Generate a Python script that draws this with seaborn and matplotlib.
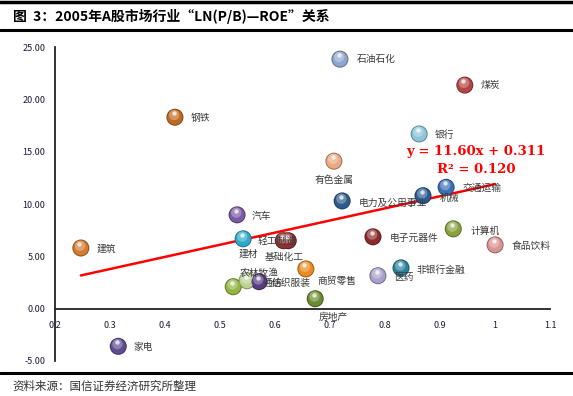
import numpy as np
import pandas as pd
import matplotlib
matplotlib.use("Agg")
import matplotlib.pyplot as plt
import matplotlib.colors as mcolors
from matplotlib.lines import Line2D
from matplotlib.transforms import offset_copy
from matplotlib.ticker import FuncFormatter, MultipleLocator
import seaborn as sns

# --- data ---
industries = [
    "石油石化", "煤炭", "钢铁", "银行", "有色金属", "电力及公用事业",
    "交通运输", "机械", "汽车", "建材", "轻工制造", "基础化工",
    "电子元器件", "计算机", "食品饮料", "非银行金融", "医药", "商贸零售",
    "房地产", "农林牧渔", "纺织服装", "通信", "建筑", "家电",
]
ln_pb = [
    0.718, 0.945, 0.418, 0.862, 0.707, 0.722,
    0.911, 0.869, 0.531, 0.542, 0.615, 0.624,
    0.778, 0.924, 1.000, 0.829, 0.787, 0.656,
    0.673, 0.549, 0.571, 0.524, 0.247, 0.315,
]
roe = [
    23.85, 21.37, 18.30, 16.70, 14.10, 10.30,
    11.60, 10.80, 8.97, 6.68, 6.50, 6.50,
    6.87, 7.63, 6.10, 3.90, 3.15, 3.80,
    0.95, 2.67, 2.58, 2.10, 5.80, -3.60,
]
ball_colors = [
    "#8fa6cf", "#b24545", "#bf6a22", "#8cc6d8", "#eaa982", "#2f5b8c",
    "#3b6fb2", "#2c5a92", "#7a5aa2", "#2fa9c9", "#8a3232", "#8e3030",
    "#8c2c2c", "#8aa23e", "#d99494", "#2a8199", "#a9a1c9", "#e98b22",
    "#6b8b30", "#bcd396", "#5a3c82", "#94b444", "#d27b31", "#614b92",
]

# trend line as printed on the chart
slope = 11.60
intercept = 0.311
r_squared = 0.120
trend_x_end = 1.0

# label placement: (dx px, dy px, ha)
label_pos = {
    "石油石化": (17, 0, "left"), "煤炭": (16, 0, "left"), "钢铁": (16, -1, "left"),
    "银行": (16, -1, "left"), "有色金属": (0, -19, "center"),
    "电力及公用事业": (17, -2, "left"), "交通运输": (16, -1, "left"),
    "机械": (17, -2, "left"), "汽车": (15, -1, "left"), "建材": (5, -15, "center"),
    "轻工制造": (-6, 0, "center"), "基础化工": (-4, -16, "center"),
    "电子元器件": (17, -1, "left"), "计算机": (17, -2, "left"),
    "食品饮料": (17, -1, "left"), "非银行金融": (16, -2, "left"),
    "医药": (16, -1, "left"), "商贸零售": (12, -12, "left"),
    "房地产": (18, -18, "center"), "农林牧渔": (12, 8, "center"),
    "纺织服装": (13, -1, "left"), "通信": (29, 4, "left"),
    "建筑": (16, -1, "left"), "家电": (15, -1, "left"),
}

df = pd.DataFrame({"industry": industries, "ln_pb": ln_pb, "roe": roe})

sns.set_style("white")
plt.rcParams["font.family"] = ["Noto Sans CJK SC", "DejaVu Sans"]

fig = plt.figure(figsize=(5.73, 3.96), dpi=100)
ax = fig.add_axes([0.096, 0.0884, 0.864, 0.7926])


def lighten(c, f):
    rgb = np.array(mcolors.to_rgb(c))
    return tuple(rgb + (1 - rgb) * f)


def darken(c, f):
    rgb = np.array(mcolors.to_rgb(c))
    return tuple(rgb * (1 - f))


# trend line
trend = pd.DataFrame({"x": [min(ln_pb), trend_x_end]})
trend["y"] = slope * trend["x"] + intercept
sns.lineplot(data=trend, x="x", y="y", color="#ff0000", linewidth=1.8, ax=ax, zorder=2)

# glossy balls: dark rim, body, highlight, specular spot
palette = dict(zip(industries, ball_colors))
sns.scatterplot(data=df, x="ln_pb", y="roe", hue="industry",
                palette={k: darken(v, 0.35) for k, v in palette.items()},
                s=150, linewidth=0, legend=False, ax=ax, zorder=3)
sns.scatterplot(data=df, x="ln_pb", y="roe", hue="industry", palette=palette,
                s=118, linewidth=0, legend=False, ax=ax, zorder=4)
hl = offset_copy(ax.transData, fig=fig, x=-0.6, y=1.6, units="points")
ax.scatter(df["ln_pb"], df["roe"], s=55, c=[lighten(c, 0.35) for c in ball_colors],
           linewidths=0, alpha=0.85, transform=hl, zorder=5)
sp = offset_copy(ax.transData, fig=fig, x=-1.0, y=3.0, units="points")
ax.scatter(df["ln_pb"], df["roe"], s=10, c="white", linewidths=0,
           alpha=0.75, transform=sp, zorder=6)

for name, x, y in zip(industries, ln_pb, roe):
    dx, dy, ha = label_pos[name]
    ax.annotate(name, (x, y), xytext=(dx, dy), textcoords="offset pixels",
                ha=ha, va="center", fontsize=7, color="#3a3a3a", zorder=7)

# regression text
ax.text(0.965, 15.0, f"y = {slope:.2f}x + {intercept:.3f}", ha="center", va="center",
        fontsize=9.5, color="#ff0000", fontweight="bold", family="DejaVu Serif")
ax.text(0.965, 13.3, f"R² = {r_squared:.3f}", ha="center", va="center",
        fontsize=9.5, color="#ff0000", fontweight="bold", family="DejaVu Serif")

# axes styling
ax.set_xlim(0.2, 1.1)
ax.set_ylim(-5, 25)
ax.xaxis.set_major_locator(MultipleLocator(0.1))
ax.yaxis.set_major_locator(MultipleLocator(5))
ax.xaxis.set_major_formatter(FuncFormatter(lambda v, p: f"{v:g}"))
ax.yaxis.set_major_formatter(FuncFormatter(lambda v, p: f"{v:.2f}"))
ax.spines["top"].set_visible(False)
ax.spines["right"].set_visible(False)
ax.spines["bottom"].set_position(("data", 0))
for s in ("left", "bottom"):
    ax.spines[s].set_color("#222222")
    ax.spines[s].set_linewidth(1.3)
ax.tick_params(axis="both", which="major", direction="out", length=3, width=1,
               color="#222222", labelsize=6.5, labelcolor="#1a1a33")
ax.tick_params(axis="x", pad=6)
ax.tick_params(axis="y", pad=4)
ax.set_xlabel("")
ax.set_ylabel("")
ax.grid(False)

# title, rules and footer
fig.text(0.022, 1 - 16 / 396, "图  3：2005年A股市场行业“LN(P/B)—ROE”关系",
         fontsize=10, fontweight="bold", color="black", va="center", ha="left")
fig.add_artist(Line2D([0.0, 1.0], [1 - 1.5 / 396] * 2, color="black", linewidth=2.5,
                      transform=fig.transFigure))
fig.add_artist(Line2D([0.0, 1.0], [1 - 30 / 396] * 2, color="black", linewidth=2.2,
                      transform=fig.transFigure))
fig.add_artist(Line2D([0.0, 1.0], [1 - 373 / 396] * 2, color="black", linewidth=2.2,
                      transform=fig.transFigure))
fig.text(0.022, 1 - 386 / 396, "资料来源：国信证券经济研究所整理",
         fontsize=8.3, color="#333333", va="center", ha="left")

fig.savefig("out.png", dpi=100)
